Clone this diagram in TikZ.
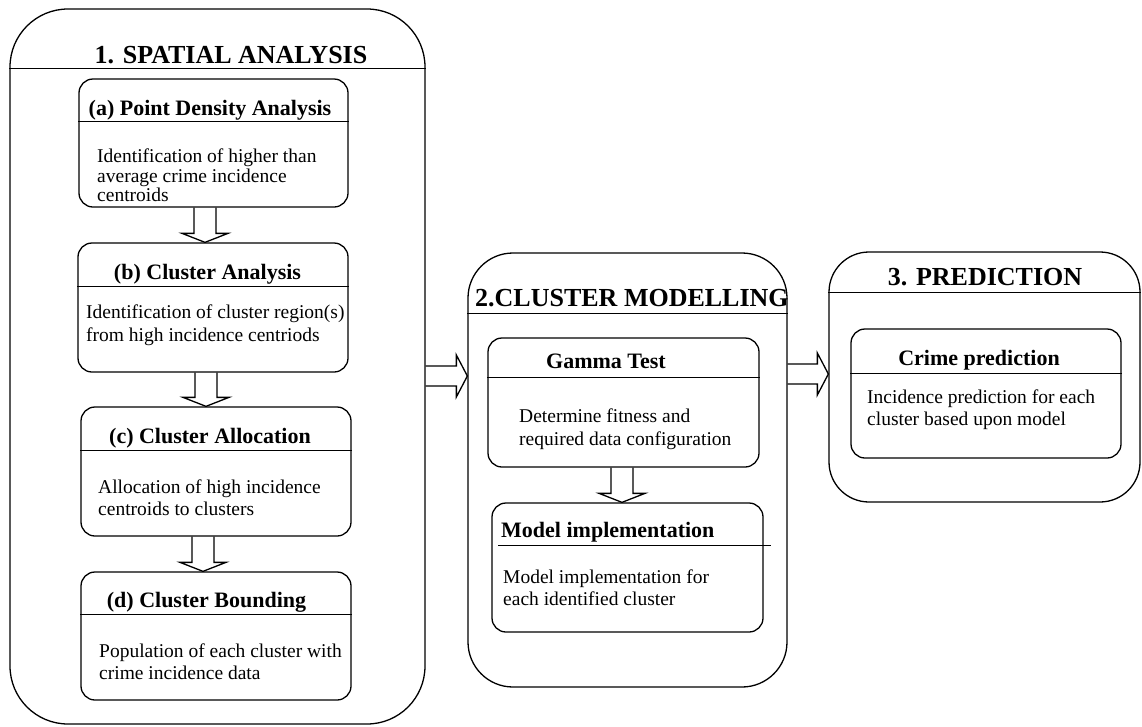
\documentclass[tikz,border=0pt]{standalone}
\usepackage{fontspec}
\setmainfont{Liberation Serif}
\usetikzlibrary{calc}
\tikzset{
  bigbox/.style={draw, line width=1.3pt, rounded corners=#1, inner sep=0pt},
  subbox/.style={draw, line width=1.3pt, rounded corners=14pt, inner sep=0pt},
  divider/.style={line width=1.3pt},
  blk/.style={draw, line width=1.3pt, line join=miter},
  maintitle/.style={inner sep=0pt, font=\fontsize{26}{30}\selectfont\bfseries},
  subtitle/.style={inner sep=0pt, font=\fontsize{22}{26}\selectfont\bfseries},
  bodytext/.style={inner sep=0pt, anchor=north west, align=left, font=\fontsize{19.5}{#1}\selectfont},
}
\newcommand\varrowblk[3]{%
  \draw[blk] ($(#1 |- #2.south)+(-11,0)$) -- ($(#1 |- #3.north)+(-11,-9)$) -- ($(#1 |- #3.north)+(-23,-9)$) -- (#1 |- #3.north) -- ($(#1 |- #3.north)+(23,-9)$) -- ($(#1 |- #3.north)+(11,-9)$) -- ($(#1 |- #2.south)+(11,0)$);}
\newcommand\harrowblk[3]{%
  \draw[blk] ($(#2.east |- #1)+(0,-10)$) -- ($(#3.west |- #1)+(-11,-10)$) -- ($(#3.west |- #1)+(-11,-21)$) -- (#3.west |- #1) -- ($(#3.west |- #1)+(-11,21)$) -- ($(#3.west |- #1)+(-11,10)$) -- ($(#2.east |- #1)+(0,10)$);}
\begin{document}
\begin{tikzpicture}[x=1pt, y=-1pt]
\useasboundingbox (0,0) rectangle (1142,726);

% big boxes
\node[bigbox=58pt, minimum width=415pt, minimum height=715pt] (S) at (217.5,366.5) {};
\node[bigbox=45pt, minimum width=319pt, minimum height=434pt] (C) at (627.5,470) {};
\node[bigbox=40pt, minimum width=311pt, minimum height=250pt] (P) at (984.5,377) {};
\draw[divider] ($(S.north west)+(0,60)$) -- ($(S.north east)+(0,60)$);
\draw[divider] ($(C.north west)+(0,61)$) -- ($(C.north east)+(0,61)$);
\draw[divider] ($(P.north west)+(0,41)$) -- ($(P.north east)+(0,41)$);
\node[maintitle, anchor=base] (St) at (231,63) {1. SPATIAL ANALYSIS};
\node[maintitle, anchor=base west] (Ct) at (475,306) {2.CLUSTER MODELLING};
\node[maintitle, anchor=base] (Pt) at (985,285) {3. PREDICTION};

% sub boxes
\node[subbox, minimum width=269pt, minimum height=128pt] (a) at (213.5,143) {};
\node[subbox, minimum width=270pt, minimum height=129pt] (b) at (213,307.5) {};
\node[subbox, minimum width=270pt, minimum height=129pt] (c) at (216,471.5) {};
\node[subbox, minimum width=270pt, minimum height=128pt] (d) at (216,636) {};
\node[subbox, minimum width=271pt, minimum height=129pt] (g) at (623.5,402.5) {};
\node[subbox, minimum width=271pt, minimum height=129pt] (m) at (627.5,567.5) {};
\node[subbox, minimum width=270pt, minimum height=129pt] (p) at (986,393.5) {};

\draw[divider] ($(a.north west)+(0,43)$) -- ($(a.north east)+(0,43)$);
\draw[divider] ($(b.north west)+(0,44)$) -- ($(b.north east)+(0,44)$);
\draw[divider] ($(c.north west)+(0,44)$) -- ($(c.north east)+(0,44)$);
\draw[divider] ($(d.north west)+(0,43)$) -- ($(d.north east)+(0,43)$);
\draw[divider] ($(g.north west)+(0,40)$) -- ($(g.north east)+(0,40)$);
\draw[divider] ($(m.north west)+(7,43)$) -- ($(m.north east)+(7,43)$);
\draw[divider] ($(p.north west)+(0,45)$) -- ($(p.north east)+(0,45)$);

% titles of sub boxes
\node[subtitle, anchor=base] (at) at (210,115) {(a) Point Density Analysis};
\node[subtitle, anchor=base] (bt) at (207.5,279) {(b) Cluster Analysis};
\node[subtitle, anchor=base] (ct) at (210,443) {(c) Cluster Allocation};
\node[subtitle, anchor=base] (dt) at (206.5,607) {(d) Cluster Bounding};
\node[subtitle, anchor=base] (gt) at (606,368) {Gamma Test};
\node[subtitle, anchor=base west] (mt) at (501,537) {Model implementation};
\node[subtitle, anchor=base] (pt) at (979,365) {Crime prediction};

% body texts
\node[bodytext=19.5] (ab) at (97,148.7) {Identification of higher than\\average crime incidence\\centroids};
\node[bodytext=23] (bb) at (86,304.7) {Identification of cluster region(s)\\from high incidence centriods};
\node[bodytext=22] (cb) at (98,479.7) {Allocation of high incidence\\centroids to clusters};
\node[bodytext=22] (db) at (99,643.7) {Population of each cluster with\\crime incidence data};
\node[bodytext=23] (gb) at (519,408.7) {Determine fitness and\\required data configuration};
\node[bodytext=22] (mb) at (503,569.7) {Model implementation for\\each identified cluster};
\node[bodytext=22] (pb) at (867,389.7) {Incidence prediction for each\\cluster based upon model};

% block arrows
\coordinate (v1) at (205,0);
\coordinate (v2) at (206,0);
\coordinate (v3) at (203,0);
\coordinate (v4) at (622,0);
\coordinate (h1) at (0,376);
\coordinate (h2) at (0,374);
\varrowblk{v1}{a}{b}
\varrowblk{v2}{b}{c}
\varrowblk{v3}{c}{d}
\varrowblk{v4}{g}{m}
\harrowblk{h1}{S}{C}
\harrowblk{h2}{C}{P}
\end{tikzpicture}
\end{document}
